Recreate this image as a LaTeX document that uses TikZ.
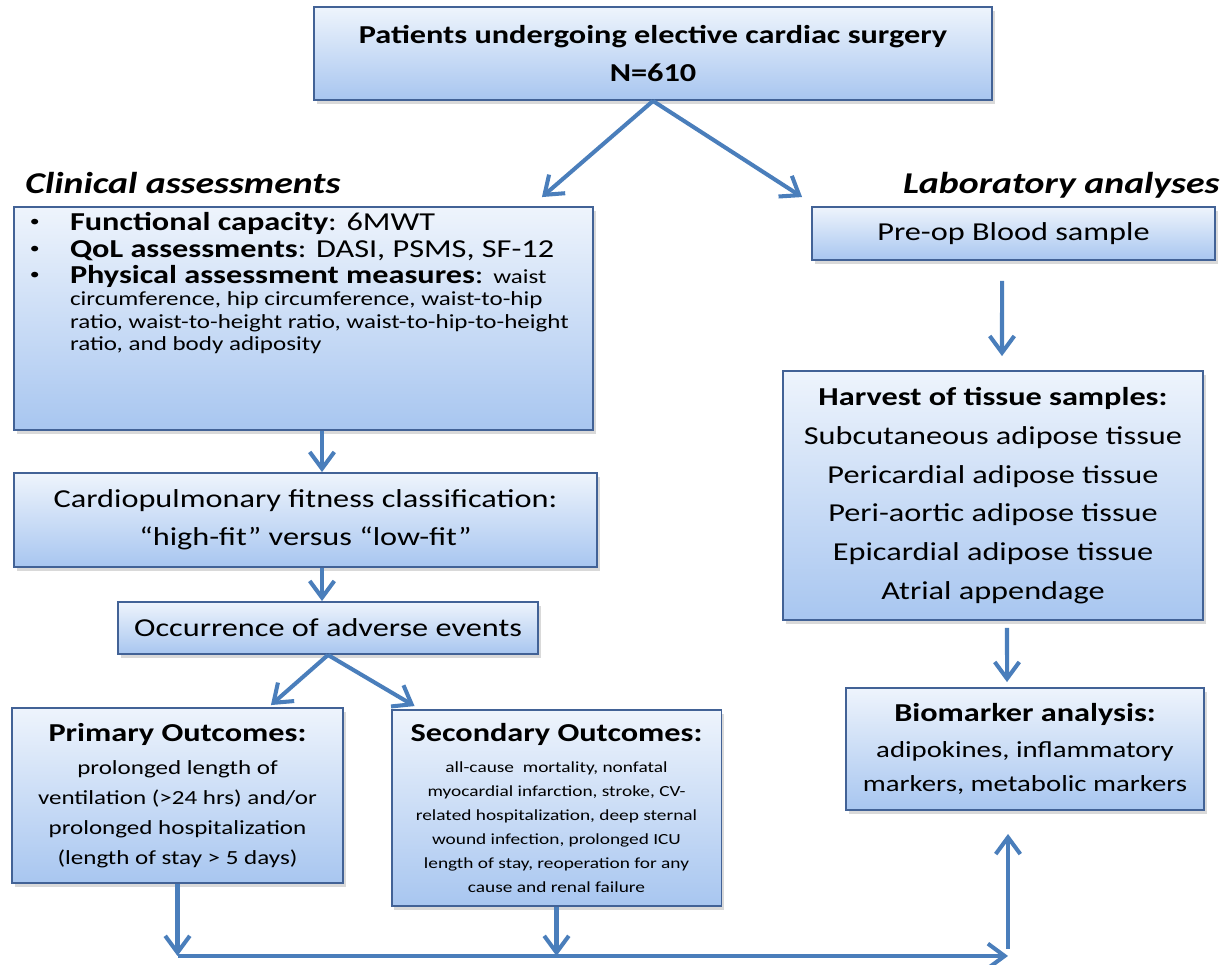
\documentclass[tikz,border=0pt]{standalone}
\usepackage{fontspec}
\setmainfont{Carlito}[FakeStretch=1.25]
\usepackage{tikz}
\usetikzlibrary{shapes,shadows,arrows.meta,positioning}
\definecolor{boxtop}{RGB}{238,244,252}
\definecolor{boxbottom}{RGB}{168,198,240}
\definecolor{boxline}{RGB}{66,98,150}
\definecolor{arrowblue}{RGB}{74,126,187}
\tikzstyle{stage} = [draw=boxline, line width=1.1pt, top color=boxtop, bottom color=boxbottom, align=center, inner sep=0pt, drop shadow={opacity=0.3, shadow xshift=1.5pt, shadow yshift=-2pt}, font=\fontsize{14.7}{21.5}\selectfont]
\tikzstyle{heading} = [inner sep=0pt, font=\fontsize{17.2}{19}\selectfont\bfseries\itshape]
\tikzstyle{arrow} = [draw, line width=2.3pt, color=arrowblue, -{Straight Barb[length=9.5pt,width=14pt]}]
\newcommand{\rootnode}[3]{node (t#1) [stage,#2] {#3}}
\newcommand{\clinnode}[3]{node (c#1) [stage,#2] {#3}}
\newcommand{\labnode}[3]{node (l#1) [stage,#2] {#3}}
\newcommand{\clinitem}{\par\hangindent=0.84cm\hangafter=1\noindent\makebox[0.84cm][l]{\hspace{1pt}\raisebox{2.2pt}{\fontsize{9}{9}\selectfont\textbullet}}}

\begin{document}
\begin{tikzpicture}[x=0.02cm,y=-0.02cm]
\useasboundingbox (0,0) rectangle (1222,964);
\path (653,53.5) \rootnode{1}{minimum width=13.56cm, minimum height=1.86cm, font=\fontsize{14.7}{21.5}\selectfont\bfseries}{Patients undergoing elective cardiac surgery\\N=610};

% clinical side
\path (t1)+(-349.5,265) \clinnode{1}{minimum width=11.58cm, minimum height=4.46cm, inner xsep=0.28cm, inner ysep=0.1cm}{\parbox[c][4.26cm][t]{11.02cm}{\fontsize{14.7}{15.5}\selectfont
\clinitem\textbf{Functional capacity}: 6MWT
\clinitem\textbf{QoL assessments}: DASI, PSMS, SF-12\par\vspace{2pt}
\clinitem\textbf{Physical assessment measures}: {\fontsize{11.4}{12.8}\selectfont waist\\circumference, hip circumference, waist-to-hip\\ratio, waist-to-height ratio, waist-to-hip-to-height\\ratio, and body adiposity\par}}};
\path ([xshift=0.24cm,yshift=0.26cm]c1.north west) node (h1) [heading, anchor=base west] {Clinical assessments};
\path (c1)+(2,201.5) \clinnode{2}{minimum width=11.66cm, minimum height=1.88cm}{Cardiopulmonary fitness classification:\\“high-fit” versus “low-fit”};
\path (c2)+(22.5,108) \clinnode{3}{minimum width=8.4cm, minimum height=1.04cm}{Occurrence of adverse events};
\path (c3)+(-150.5,167.5) \clinnode{4}{minimum width=6.62cm, minimum height=3.5cm, font=\fontsize{11.4}{17}\selectfont}{{\fontsize{14.7}{17}\selectfont\bfseries Primary Outcomes:}\\[2.2pt]prolonged length of\\ventilation (>24 hrs) and/or\\prolonged hospitalization\\(length of stay > 5 days)};
\path (c3)+(228.5,180) \clinnode{5}{minimum width=6.6cm, minimum height=3.92cm, font=\fontsize{8.8}{13.6}\selectfont}{{\fontsize{14.7}{17}\selectfont\bfseries Secondary Outcomes:}\\[4pt]all-cause\ \ mortality, nonfatal\\myocardial infarction, stroke, CV-\\related hospitalization, deep sternal\\wound infection, prolonged ICU\\length of stay, reoperation for any\\cause and renal failure};

% laboratory side
\path (t1)+(360.5,180) \labnode{1}{minimum width=8.06cm, minimum height=1.06cm}{Pre-op Blood sample};
\path ([xshift=0.08cm,yshift=0.26cm]l1.north east) node (h2) [heading, anchor=base east] {Laboratory analyses};
\path (l1)+(-20.5,262) \labnode{2}{minimum width=8.4cm, minimum height=4.98cm, font=\fontsize{14.7}{22}\selectfont}{\textbf{Harvest of tissue samples:}\\Subcutaneous adipose tissue\\Pericardial adipose tissue\\Peri-aortic adipose tissue\\Epicardial adipose tissue\\Atrial appendage};
\path (l2)+(32,253.5) \labnode{3}{minimum width=7.16cm, minimum height=2.44cm, font=\fontsize{13.1}{19.3}\selectfont}{{\fontsize{14.7}{19.3}\selectfont\bfseries Biomarker analysis:}\\[1.5pt]adipokines, inflammatory\\markers, metabolic markers};

% arrows
\path [arrow] (t1.south) -- ([xshift=-1.04cm,yshift=0.18cm]c1.north east);
\path [arrow] (t1.south) -- ([xshift=-0.18cm,yshift=0.18cm]l1.north west);
\coordinate (spine) at ([xshift=-0.12cm]c3.north);
\path [arrow] (c1.south -| spine) -- (c2.north -| spine);
\path [arrow] (c2.south -| spine) -- (spine);
\path [arrow] (c3.south) -- ([xshift=-1.46cm,yshift=0.04cm]c4.north east);
\path [arrow] (c3.south) -- ([xshift=0.48cm,yshift=0.06cm]c5.north west);
\coordinate (b1) at ([yshift=-1.44cm]c4.south);
\coordinate (b2) at (c5.south |- b1);
\coordinate (b3) at ([xshift=-0.34cm]l3.south |- b1);
\path [arrow] (c4.south) -- (b1);
\path [arrow] (c5.south) -- (b2);
\path [arrow] (b1) -- (b3);
\path [arrow] ([yshift=0.14cm]b3) -- ([yshift=-0.46cm]l3.south -| b3);
\path [arrow] ([xshift=-0.23cm,yshift=-0.4cm]l1.south) -- ([xshift=0.18cm,yshift=0.28cm]l2.north);
\path [arrow] ([xshift=0.28cm,yshift=-0.14cm]l2.south) -- ([xshift=-0.36cm,yshift=0.1cm]l3.north);
\end{tikzpicture}
\end{document}
